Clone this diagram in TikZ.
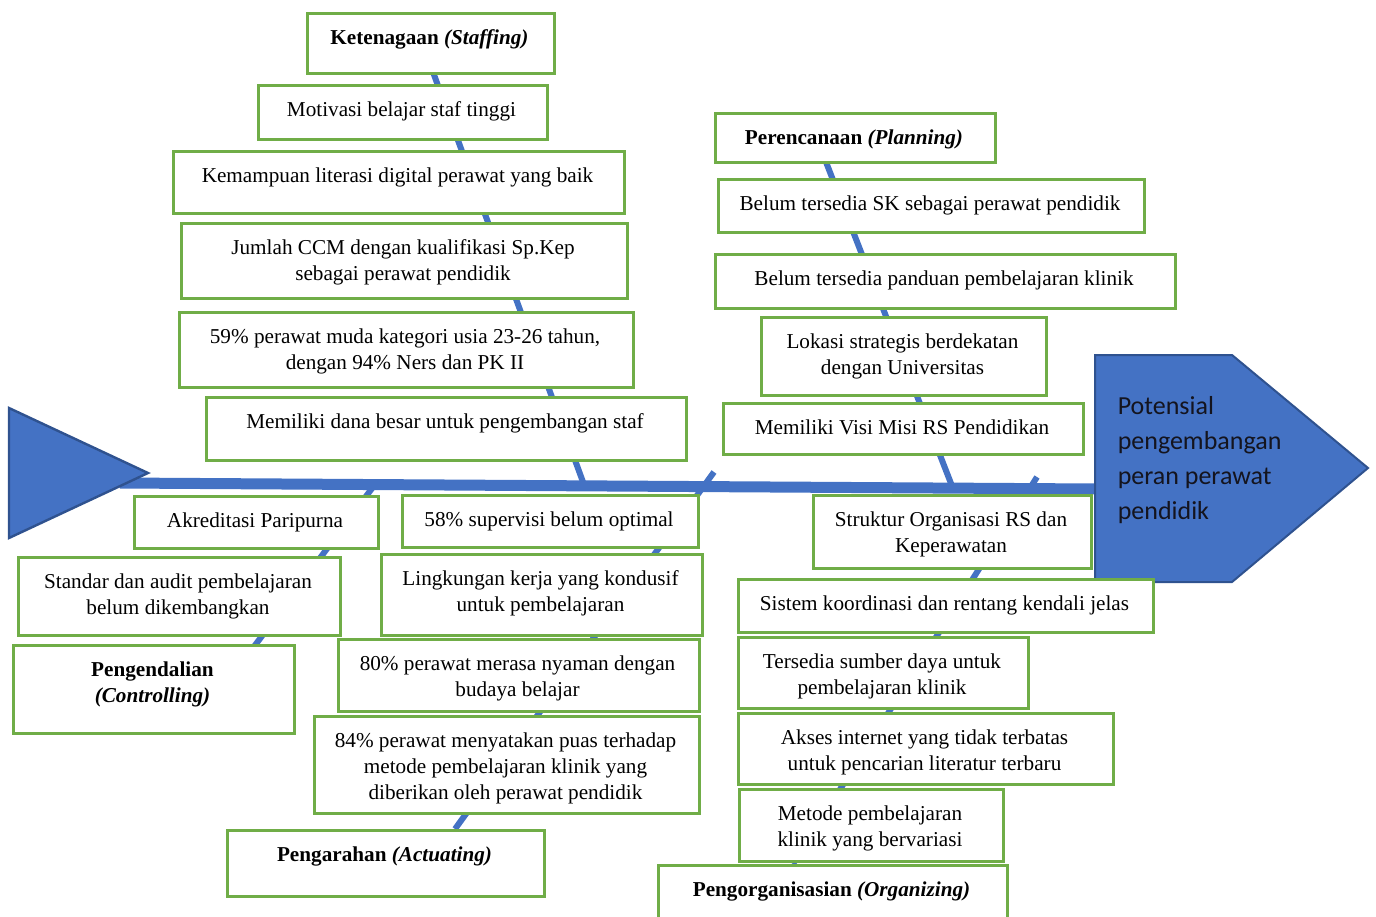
\documentclass[tikz,border=0pt]{standalone}
\usepackage{fontspec}
\setmainfont{Liberation Serif}
\newfontfamily\headfont{Carlito}

\definecolor{boxgreen}{RGB}{112,173,71}
\definecolor{fishblue}{RGB}{68,114,196}
\definecolor{edgeblue}{RGB}{47,82,143}

\tikzset{every picture/.style={line width=0.75pt},
  causebox/.style={draw=boxgreen, line width=1.3pt, fill=white, inner sep=0pt},
  causetext/.style={anchor=north, inner sep=0pt, align=center, font=\fontsize{10.6}{13}\selectfont},
  bone/.style={draw=fishblue, line width=3pt}}

% name, left, top, right, bottom, text
\newcommand{\fishbox}[6]{%
  \draw (#2,#3) node [causebox, anchor=north west, minimum width={(#4-#2)*0.5pt}, minimum height={(#5-#3)*0.5pt}] (#1) {};
  \draw ({(#2+#4)/2},{#3+14}) node [causetext] (#1-t) {\strut #6};
}

\begin{document}
\begin{tikzpicture}[x=0.5pt,y=0.5pt,yscale=-1,xscale=1]
\useasboundingbox (0,0) rectangle (1376,916);

%Straight Lines [bones]
\coordinate (staffA) at (433,72);   \coordinate (staffB) at (583,482);
\coordinate (planA) at (826,162);   \coordinate (planB) at (952,486);
\coordinate (ctrlA) at (250,652);   \coordinate (ctrlB) at (373,487);
\coordinate (actA) at (455,829);    \coordinate (actB) at (714,472);
\coordinate (orgA) at (793,864);    \coordinate (orgB) at (1037,477);
\draw [bone] (staffA) -- (staffB) ;
\draw [bone] (planA) -- (planB) ;
\draw [bone] (ctrlA) -- (ctrlB) ;
\draw [bone] (actA) -- (actB) ;
\draw [bone] (orgA) -- (orgB) ;

%Straight Lines [spine]
\coordinate (tail) at (120,483);
\coordinate (headbase) at (1097,489);
\draw [draw=fishblue, line width=5.5pt] (tail) -- (headbase) ;

%Shape: Triangle [tail]
\draw [draw=edgeblue, fill=fishblue, line width=1.2pt] (9,408) -- (148,473) -- (9,538) -- cycle ;
%Shape: Pentagon [head]
\draw [draw=edgeblue, fill=fishblue, line width=1pt] (1095,355) -- (1232,355) -- (1368,468) -- (1232,582) -- (1095,582) -- cycle ;

% Text Node
\draw (1117,389) node [anchor=north west, inner sep=0pt, align=left, font=\headfont\fontsize{13}{17.5}\selectfont, text={rgb,255:red,20;green,20;blue,30}] (goal) {\strut Potensial\\pengembangan\\peran perawat\\pendidik};

%Shape: Rectangle [staffing]
\fishbox{staff}{306}{12}{553}{72}{\textbf{Ketenagaan \textit{(Staffing)}}}
\fishbox{motiv}{257}{84}{546}{138}{Motivasi belajar staf tinggi}
\fishbox{literasi}{172}{150}{623}{212}{Kemampuan literasi digital perawat yang baik}
\fishbox{ccm}{180}{222}{626}{297}{Jumlah CCM dengan kualifikasi Sp.Kep\\sebagai perawat pendidik}
\fishbox{usia}{178}{311}{632}{386}{59\% perawat muda kategori usia 23-26 tahun,\\dengan 94\% Ners dan PK II}
\fishbox{dana}{205}{396}{685}{459}{Memiliki dana besar untuk pengembangan staf}

%Shape: Rectangle [planning]
\fishbox{plan}{714}{112}{994}{161}{\textbf{Perencanaan \textit{(Planning)}}}
\fishbox{sk}{717}{178}{1143}{231}{Belum tersedia SK sebagai perawat pendidik}
\fishbox{panduan}{714}{253}{1174}{307}{Belum tersedia panduan pembelajaran klinik}
\fishbox{lokasi}{760}{316}{1045}{394}{Lokasi strategis berdekatan\\dengan Universitas}
\fishbox{visi}{722}{402}{1082}{453}{Memiliki Visi Misi RS Pendidikan}

%Shape: Rectangle [controlling]
\fishbox{akred}{133}{495}{377}{547}{Akreditasi Paripurna}
\fishbox{audit}{17}{556}{339}{634}{Standar dan audit pembelajaran\\belum dikembangkan}
\fishbox{control}{12}{644}{293}{732}{\textbf{Pengendalian}\\\textbf{\textit{(Controlling)}}}

%Shape: Rectangle [actuating]
\fishbox{superv}{401}{494}{697}{546}{58\% supervisi belum optimal}
\fishbox{lingk}{380}{553}{701}{634}{Lingkungan kerja yang kondusif\\untuk pembelajaran}
\fishbox{nyaman}{337}{638}{698}{710}{80\% perawat merasa nyaman dengan\\budaya belajar}
\fishbox{puas}{313}{715}{698}{812}{84\% perawat menyatakan puas terhadap\\metode pembelajaran klinik yang\\diberikan oleh perawat pendidik}
\fishbox{act}{226}{829}{543}{895}{\textbf{Pengarahan \textit{(Actuating)}}}

%Shape: Rectangle [organizing]
\fishbox{struktur}{812}{494}{1090}{567}{Struktur Organisasi RS dan\\Keperawatan}
\fishbox{koord}{737}{578}{1152}{631}{Sistem koordinasi dan rentang kendali jelas}
\fishbox{sumber}{737}{636}{1027}{707}{Tersedia sumber daya untuk\\pembelajaran klinik}
\fishbox{akses}{737}{712}{1112}{783}{Akses internet yang tidak terbatas\\untuk pencarian literatur terbaru}
\fishbox{metode}{738}{788}{1002}{860}{Metode pembelajaran\\klinik yang bervariasi}
\fishbox{org}{657}{864}{1006}{930}{\textbf{Pengorganisasian \textit{(Organizing)}}}

\end{tikzpicture}
\end{document}
